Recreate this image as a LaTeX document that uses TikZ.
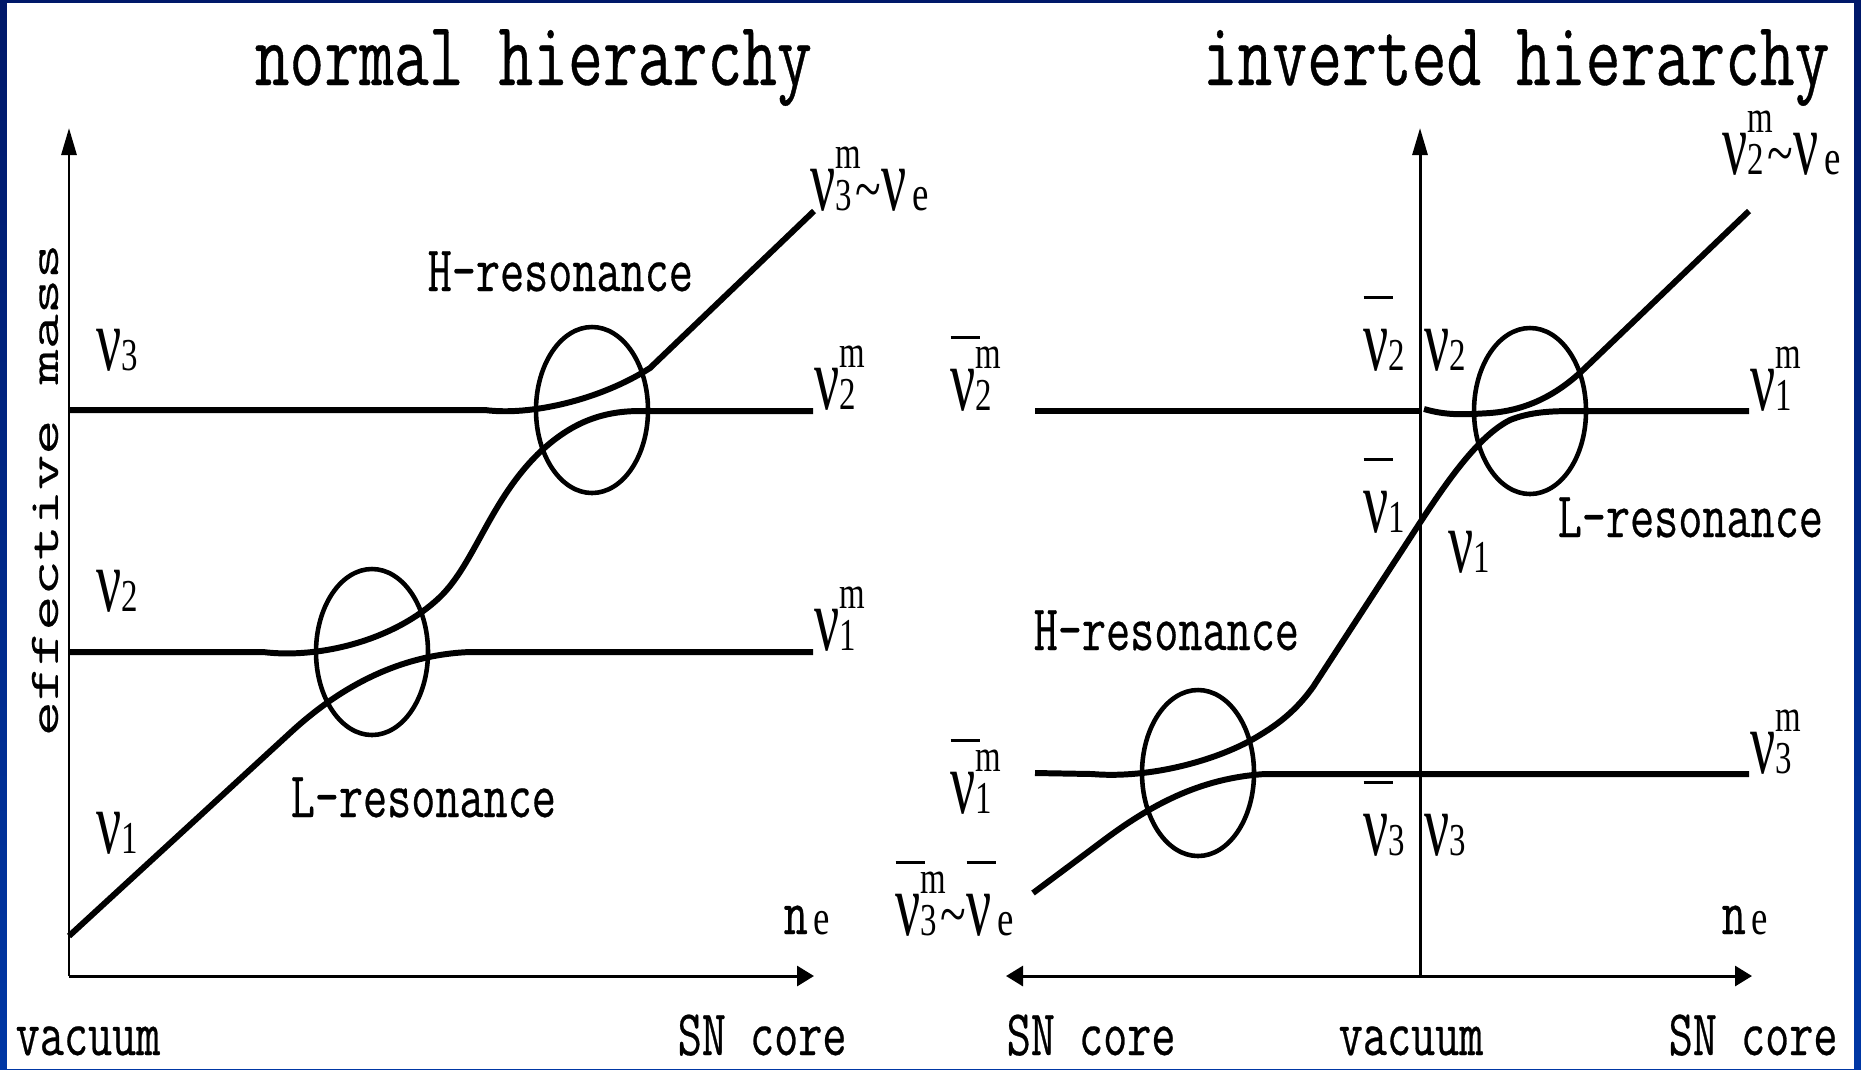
\documentclass[tikz,border=0pt]{standalone}
\usepackage{fontspec}
\usepackage{tikz}
\usetikzlibrary{arrows.meta}
\newfontfamily\monof[FakeStretch=0.74,FakeBold=0.4]{Latin Modern Mono}
\newfontfamily\monol[FakeStretch=0.72,FakeBold=0.4]{Latin Modern Mono}
\newfontfamily\monorot[FakeStretch=1.62,FakeBold=0.3]{Latin Modern Mono}
\newfontfamily\nufont[FakeStretch=0.62]{Liberation Serif}
\newfontfamily\idxfont[FakeStretch=0.72]{Liberation Serif}
\newfontfamily\efont[FakeStretch=0.75]{Liberation Serif}
\definecolor{FrameTop}{RGB}{0,24,105}
\definecolor{FrameBot}{RGB}{0,55,165}
\newcommand\titlefont{\fontsize{26}{28}\monof}
\newcommand\labfont{\fontsize{18.5}{20}\monol}
\newcommand\nusym{{\fontsize{25.6}{28}\nufont ν}}
\newcommand\idx[2]{{\fontsize{13}{14}\idxfont\rlap{\raisebox{11.9pt}{#2}}#1}}
\newcommand\nuv[2]{\nusym\idx{#1}{#2}}
\newcommand\nubar{\rlap{\raisebox{7.1mm}{\rule{2.9mm}{0.35mm}}}}
\newcommand\tld{{\fontsize{18}{20}\efont\kern1pt\textasciitilde}}
\newcommand\esub{{\fontsize{14}{16}\efont\kern1.5pt e}}

\begin{document}
\begin{tikzpicture}[x=0.1mm,y=-0.1mm,
  curve/.style={line width=1.7pt},
  reso/.style={line width=1.3pt},
  axis/.style={line width=0.85pt},
  lab/.style={inner sep=0pt,anchor=base west},
  harrow/.style={-{Triangle[length=1.7mm,width=2mm]}},
  varrow/.style={-{Triangle[length=2.7mm,width=1.5mm]}}]
% frame
\fill[top color=FrameTop,bottom color=FrameBot] (0,0) rectangle (1861,1069);
\fill[white] (7,3) rectangle (1854,1069);
\useasboundingbox (0,0) rectangle (1861,1069);

% normal hierarchy
\coordinate (lo) at (69,976);
\coordinate (ltop) at (69,128);
\coordinate (lend) at (814,976);
\draw[axis,varrow] (lo) -- (ltop);
\draw[axis,harrow] (lo) -- (lend);
\draw[curve] (69,410) -- (485,410) .. controls (530,416) and (600,400) .. (650,368) -- (814,211);
\draw[curve] (69,652) -- (263,652) .. controls (320,659) and (395,640) .. (440,597)
  .. controls (475,563) and (490,500) .. (540,452) .. controls (570,424) and (600,411) .. (640,411) -- (813,411);
\draw[curve] (69,936) -- (290,733) .. controls (330,696) and (390,655) .. (470,652) -- (813,652);
\draw[reso] (372,652) ellipse [x radius=56,y radius=83];
\draw[reso] (592,410) ellipse [x radius=56,y radius=83];

\node[lab,font=\titlefont] (tnorm) at (254,85) {normal hierarchy};
\node[inner sep=0pt,rotate=90,font=\fontsize{12}{14}\monorot] (ylab) at (45,490) {effective mass};
\node[lab] (n3) at (96,370) {\nuv{3}{}};
\node[lab] (n2) at (96,611) {\nuv{2}{}};
\node[lab] (n1) at (96,853) {\nuv{1}{}};
\node[lab] (n3me) at (810,210) {\nuv{3}{m}\tld\nusym\esub};
\node[lab] (n2m) at (814,409) {\nuv{2}{m}};
\node[lab] (n1m) at (814,650) {\nuv{1}{m}};
\node[lab,font=\labfont] (hresL) at (427,291) {H-resonance};
\node[lab,font=\labfont] (lresL) at (290,817) {L-resonance};
\node[lab] (neL) at (783,934) {{\labfont n}\esub};
\node[lab,font=\labfont] (vacL) at (15,1055) {vacuum};
\node[lab,font=\labfont] (sncL) at (677,1055) {SN core};

% inverted hierarchy
\coordinate (ro) at (1420,976);
\coordinate (rtop) at (1420,128);
\coordinate (rleft) at (1006,976);
\coordinate (rright) at (1752,976);
\draw[axis,varrow] (ro) -- (rtop);
\draw[axis,harrow] (ro) -- (rleft);
\draw[axis,harrow] (ro) -- (rright);
\draw[curve] (1035,411) -- (1420,411);
\draw[curve] (1424,409) .. controls (1445,415) and (1460,415) .. (1490,413)
  .. controls (1530,410) and (1560,392) .. (1584,369) -- (1749,211);
\draw[curve] (1035,773) -- (1092,774) .. controls (1150,779) and (1220,760) .. (1260,735)
  .. controls (1285,720) and (1300,705) .. (1313,687) -- (1395,561)
  .. controls (1430,508) and (1470,440) .. (1510,420) .. controls (1530,412) and (1550,411) .. (1575,411) -- (1749,411);
\draw[curve] (1033,893) -- (1100,843) .. controls (1150,805) and (1200,778) .. (1265,774) -- (1749,774);
\draw[reso] (1198,773) ellipse [x radius=56,y radius=83];
\draw[reso] (1530,411) ellipse [x radius=56,y radius=83];

\node[lab,font=\titlefont] (tinv) at (1202,85) {inverted hierarchy};
\node[lab] (n2me) at (1722,174) {\nuv{2}{m}\tld\nusym\esub};
\node[lab] (bn2m) at (950,410) {\nubar\nuv{2}{m}};
\node[lab] (bn1m) at (950,813) {\nubar\nuv{1}{m}};
\node[lab] (bn3me) at (895,935) {\nubar\nuv{3}{m}\tld\nubar\nusym\esub};
\node[lab] (bn2) at (1363,370) {\nubar\nuv{2}{}};
\node[lab] (n2r) at (1424,370) {\nuv{2}{}};
\node[lab] (bn1) at (1363,532) {\nubar\nuv{1}{}};
\node[lab] (n1r) at (1448,572) {\nuv{1}{}};
\node[lab] (bn3) at (1363,855) {\nubar\nuv{3}{}};
\node[lab] (n3r) at (1424,855) {\nuv{3}{}};
\node[lab] (n1mr) at (1750,410) {\nuv{1}{m}};
\node[lab] (n3mr) at (1750,773) {\nuv{3}{m}};
\node[lab,font=\labfont] (hresR) at (1033,650) {H-resonance};
\node[lab,font=\labfont] (lresR) at (1557,537) {L-resonance};
\node[lab] (neR) at (1721,934) {{\labfont n}\esub};
\node[lab,font=\labfont] (sncR1) at (1006,1055) {SN core};
\node[lab,font=\labfont] (vacR) at (1338,1055) {vacuum};
\node[lab,font=\labfont] (sncR2) at (1668,1055) {SN core};
\end{tikzpicture}
\end{document}
